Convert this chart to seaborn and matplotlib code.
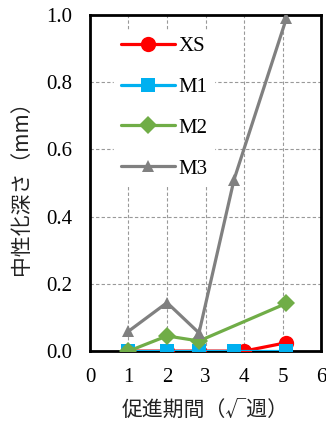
import matplotlib
matplotlib.use("Agg")
import matplotlib.pyplot as plt
import seaborn as sns
import pandas as pd
import numpy as np

# data
series_names = ["XS", "M1", "M2", "M3"]
xs_x = [1.0, 2.0, 2.83, 4.0, 5.1]
xs_y = [0.0, 0.0, 0.0, 0.0, 0.025]
m1_x = [1.0, 2.0, 2.83, 3.74, 5.1]
m1_y = [0.0, 0.0, 0.0, 0.0, 0.0]
m2_x = [1.0, 2.0, 2.83, 5.1]
m2_y = [0.0, 0.045, 0.03, 0.142]
m3_x = [1.0, 2.0, 2.83, 3.74, 5.1]
m3_y = [0.059, 0.144, 0.054, 0.51, 0.99]
x_ticks = [0, 1, 2, 3, 4, 5, 6]
y_ticks = [0.0, 0.2, 0.4, 0.6, 0.8, 1.0]

colors = {"XS": "#FF0000", "M1": "#00B0F0", "M2": "#70AD47", "M3": "#808080"}
markers = {"XS": "o", "M1": "s", "M2": "D", "M3": "^"}
msizes = {"XS": 11, "M1": 9.5, "M2": 9.5, "M3": 9}

frames = []
for name, xv, yv in zip(series_names, [xs_x, m1_x, m2_x, m3_x], [xs_y, m1_y, m2_y, m3_y]):
    frames.append(pd.DataFrame({"x": xv, "y": yv, "series": name}))
df = pd.concat(frames, ignore_index=True)

sns.set_theme(style="white")
plt.rcParams['font.family'] = ['Liberation Serif', 'Noto Sans CJK JP']

fig = plt.figure(figsize=(3.26, 4.23), dpi=100)
ax = fig.add_axes([0.276, 0.170, 0.709, 0.795])

for name in series_names:
    sub = df[df["series"] == name]
    sns.lineplot(data=sub, x="x", y="y", ax=ax, color=colors[name], marker=markers[name],
                 markersize=msizes[name], markeredgewidth=0, linewidth=2.3, label=name,
                 estimator=None, sort=False, zorder=3)

ax.set_xlim(0, 6)
ax.set_ylim(0, 1.0)
ax.set_xticks(x_ticks)
ax.set_yticks(y_ticks)
ax.set_xticklabels([str(t) for t in x_ticks])
ax.set_yticklabels([f"{t:.1f}" for t in y_ticks])
ax.tick_params(axis='both', labelsize=15, length=0, colors='black')
ax.tick_params(axis='x', pad=12)
ax.tick_params(axis='y', pad=13)
ax.grid(True, linestyle=(0, (3, 2)), color='#999999', linewidth=0.8)
ax.set_axisbelow(True)
for s in ax.spines.values():
    s.set_linewidth(2.0)
    s.set_color('black')

ax.set_xlabel("促進期間（√週）", fontsize=15, family=['Noto Sans CJK JP', 'DejaVu Sans'], labelpad=9, color='#222222')
ax.set_ylabel("中性化深さ（mm）", fontsize=15, family=['Noto Sans CJK JP', 'DejaVu Sans'], labelpad=10, color='#222222')

leg = ax.legend(loc='upper left', bbox_to_anchor=(0.06, 0.985), frameon=True, fontsize=15,
                handlelength=2.6, labelspacing=1.02, handletextpad=0.2, borderpad=0.3)
leg.get_frame().set_facecolor('white')
leg.get_frame().set_edgecolor('white')
leg.get_frame().set_alpha(1.0)
for t in leg.get_texts():
    t.set_color('black')

fig.savefig("out.png", dpi=100)
